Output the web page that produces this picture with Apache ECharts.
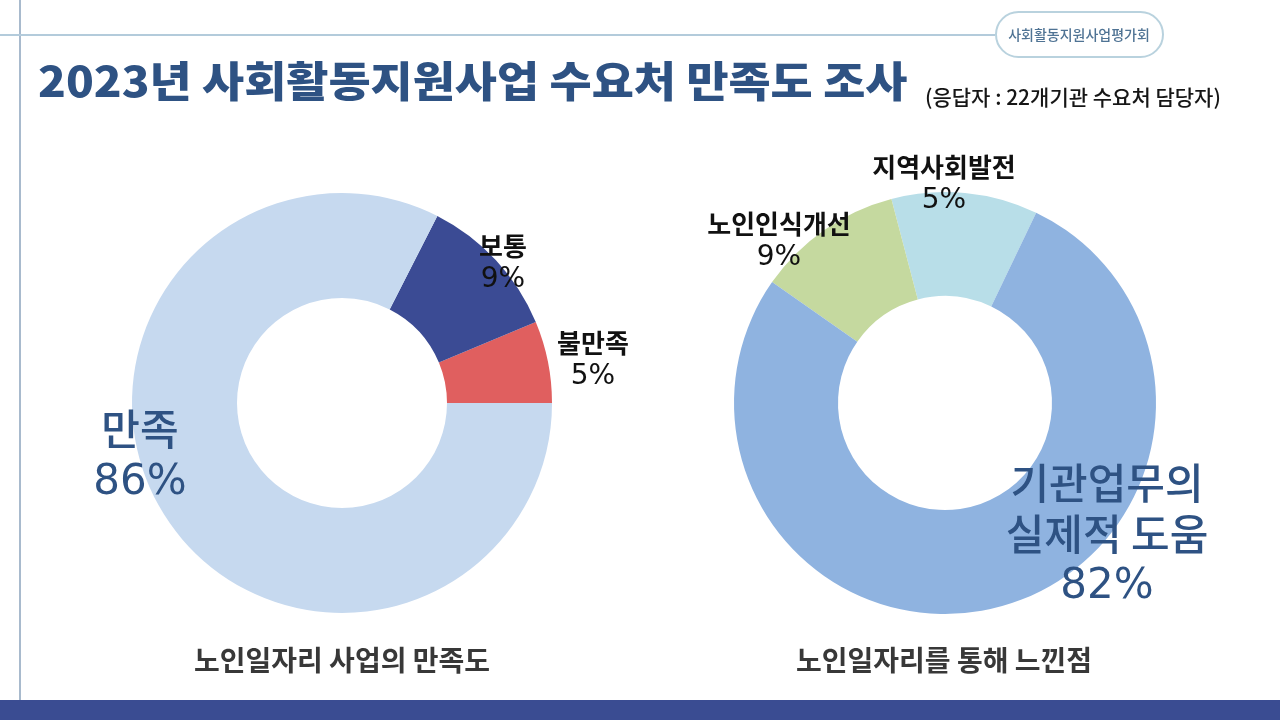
<!DOCTYPE html>
<html>
<head>
<meta charset="utf-8">
<script src="https://cdn.jsdelivr.net/npm/echarts@6/dist/echarts.min.js"></script>
<style>
html,body{margin:0;padding:0;background:#fff;}
#c{width:1280px;height:720px;}
</style>
</head>
<body>
<div id="c"></div>
<script>
// ---- data ----
const titleText = '2023년 사회활동지원사업 수요처 만족도 조사';
const subTitleText = '(응답자 : 22개기관 수요처 담당자)';
const badgeText = '사회활동지원사업평가회';

// Left donut: 노인일자리 사업의 만족도
const leftChartTitle = '노인일자리 사업의 만족도';
const leftCategories = ['불만족', '보통', '만족'];
const leftShares = [6.3, 11.2, 82.5];          // arc sizes as drawn
const leftPercentLabels = ['5%', '9%', '86%']; // printed percentages
const leftColors = ['#e05f5f', '#3b4b94', '#c6d9ef'];

// Right donut: 노인일자리를 통해 느낀점
const rightChartTitle = '노인일자리를 통해 느낀점';
const rightCategories = ['지역사회발전', '노인인식개선', '기관업무의\n실제적 도움'];
const rightShares = [11.2, 11.2, 77.6];
const rightPercentLabels = ['5%', '9%', '82%'];
const rightColors = ['#b8dee8', '#c5d99f', '#8fb3e0'];

// ---- chart ----
const chart = echarts.init(document.getElementById('c'), null, {renderer: 'canvas'});
const FONT = '"Noto Sans CJK KR", "Noto Sans", sans-serif';
const PFONT = '"DejaVu Sans", "Noto Sans CJK KR", sans-serif';
const DARK = '#2e5283';

const smallRich = {
  n: {fontSize: 26, lineHeight: 31, color: '#111', fontWeight: 'bold', fontFamily: FONT},
  p: {fontSize: 28, lineHeight: 31, color: '#111', fontWeight: 'normal', fontFamily: PFONT, padding: [5, 0, 0, 0]}
};
const bigRich = {
  n: {fontSize: 42, lineHeight: 51, color: DARK, fontWeight: 500, fontFamily: FONT},
  p: {fontSize: 42, lineHeight: 51, color: DARK, fontWeight: 'normal', fontFamily: PFONT, padding: [5, 0, 0, 0]}
};

function makeData(cats, shares, pcts, colors, bigIndex) {
  return cats.map((c, i) => ({
    name: c,
    value: shares[i],
    itemStyle: {color: colors[i]},
    label: {rich: i === bigIndex ? bigRich : smallRich},
    pct: pcts[i]
  }));
}

const leftLabelPos = [[593, 359], [503, 262], [140, 455]];
const rightLabelPos = [[944, 183], [779, 240], [1107, 534]];

function pieSeries(center, radius, startAngle, data, pos) {
  return {
    type: 'pie',
    center: center,
    radius: radius,
    startAngle: startAngle,
    clockwise: false,
    avoidLabelOverlap: false,
    silent: true,
    animation: false,
    label: {
      show: true,
      position: 'inside',
      formatter: p => p.name.split('\n').map(s => '{n|' + s + '}').join('\n') + '\n{p|' + p.data.pct + '}'
    },
    labelLine: {show: false},
    labelLayout: p => ({x: pos[p.dataIndex][0], y: pos[p.dataIndex][1], align: 'center', verticalAlign: 'middle'}),
    data: data
  };
}

const option = {
  backgroundColor: '#ffffff',
  animation: false,
  series: [
    pieSeries([342, 403], [105, 210], 0, makeData(leftCategories, leftShares, leftPercentLabels, leftColors, 2), leftLabelPos),
    pieSeries([945, 403], [107, 211], 64.4, makeData(rightCategories, rightShares, rightPercentLabels, rightColors, 2), rightLabelPos)
  ],
  graphic: [
    // frame lines
    {type: 'line', shape: {x1: 20, y1: 0, x2: 20, y2: 700}, style: {stroke: '#a8bacd', lineWidth: 2}, silent: true},
    {type: 'line', shape: {x1: 0, y1: 35, x2: 995, y2: 35}, style: {stroke: '#b3cbdb', lineWidth: 2}, silent: true},
    // badge
    {type: 'rect', shape: {x: 996, y: 12, width: 167, height: 45, r: 22.5}, style: {fill: '#fff', stroke: '#b9d2de', lineWidth: 2}, silent: true},
    {type: 'text', x: 1079, y: 35, style: {text: badgeText, font: '500 14px ' + FONT, fill: '#4f7394', textAlign: 'center', textVerticalAlign: 'middle'}, silent: true},
    // title
    {type: 'text', x: 38, y: 81, scaleX: 1.09, style: {text: titleText, font: '900 42px ' + FONT, fill: DARK, textAlign: 'left', textVerticalAlign: 'middle'}, silent: true},
    {type: 'text', x: 925, y: 97, style: {text: subTitleText, font: '500 21px ' + FONT, fill: '#161616', textAlign: 'left', textVerticalAlign: 'middle'}, silent: true},
    // chart captions
    {type: 'text', x: 342, y: 660, style: {text: leftChartTitle, font: 'bold 28px ' + FONT, fill: '#383838', textAlign: 'center', textVerticalAlign: 'middle'}, silent: true},
    {type: 'text', x: 944, y: 660, style: {text: rightChartTitle, font: 'bold 28px ' + FONT, fill: '#383838', textAlign: 'center', textVerticalAlign: 'middle'}, silent: true},
    // bottom bar
    {type: 'rect', shape: {x: 0, y: 700, width: 1280, height: 20}, style: {fill: '#3a4c92'}, silent: true}
  ]
};
chart.setOption(option);
</script>
</body>
</html>
